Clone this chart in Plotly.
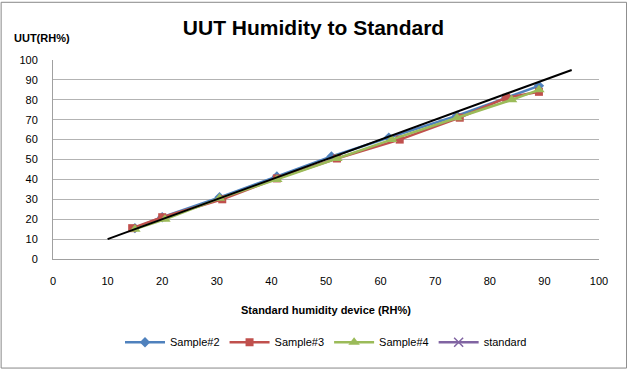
import plotly.graph_objects as go

# Data
s2_x = [15, 20, 30.5, 41, 51, 61.5, 74, 83, 89]
s2_y = [15.5, 21, 31, 41.5, 51.5, 61, 72, 81, 87]
s3_x = [14.5, 20, 31, 41, 52, 63.5, 74.5, 83, 89]
s3_y = [15.5, 21, 30, 40.5, 50.5, 60, 71, 81, 84]
s4_x = [15, 20.5, 30.5, 41, 52, 62, 74, 84, 89]
s4_y = [15, 20, 30.5, 40, 50.5, 60, 71, 80, 85]
std_x = [10, 95]
std_y = [10, 95]
x_ticks = [0, 10, 20, 30, 40, 50, 60, 70, 80, 90, 100]
y_ticks = [0, 10, 20, 30, 40, 50, 60, 70, 80, 90, 100]

FONT = "Liberation Sans"
fig = go.Figure()
fig.add_trace(go.Scatter(x=s2_x, y=s2_y, name="Sample#2", mode="lines+markers",
                         line=dict(color="#4F81BD", width=2.5),
                         marker=dict(symbol="diamond", size=8, color="#4F81BD")))
fig.add_trace(go.Scatter(x=s3_x, y=s3_y, name="Sample#3", mode="lines+markers",
                         line=dict(color="#C0504D", width=2.5),
                         marker=dict(symbol="square", size=8, color="#C0504D")))
fig.add_trace(go.Scatter(x=s4_x, y=s4_y, name="Sample#4", mode="lines+markers",
                         line=dict(color="#9BBB59", width=2.5),
                         marker=dict(symbol="triangle-up", size=10, color="#9BBB59")))
fig.add_trace(go.Scatter(x=[None], y=[None], name="standard", mode="lines+markers",
                         line=dict(color="#8064A2", width=2.5),
                         marker=dict(symbol="x-thin", size=9, line=dict(color="#8064A2", width=1.5))))
fig.add_trace(go.Scatter(x=std_x, y=std_y, mode="lines", showlegend=False,
                         line=dict(color="black", width=2)))

fig.update_layout(
    width=627, height=369,
    margin=dict(l=53, r=28, t=60, b=108),
    paper_bgcolor="white", plot_bgcolor="white",
    font=dict(family=FONT, size=11, color="black"),
    title=dict(text="<b>UUT Humidity to Standard</b>", x=0.5, xanchor="center",
               y=0.924, yanchor="middle", font=dict(size=21, family=FONT)),
    xaxis=dict(range=[0, 100], tickvals=x_ticks, showgrid=False, showline=True,
               linecolor="#a0a0a0", linewidth=1, ticks="", zeroline=False,
               ticklabelstandoff=12,
               title=dict(text="<b>Standard humidity device (RH%)</b>", standoff=20,
                          font=dict(size=11))),
    yaxis=dict(range=[0, 100], tickvals=y_ticks, showgrid=True, gridcolor="#b3b3b3",
               gridwidth=1, showline=True, linecolor="#a0a0a0", linewidth=1,
               ticks="", zeroline=False, ticklabelstandoff=12),
    legend=dict(orientation="h", x=0.5, xanchor="center", y=-0.418, yanchor="middle",
                font=dict(size=11), itemwidth=40),
    shapes=[dict(type="rect", xref="paper", yref="paper", x0=-0.095, x1=1.0505,
                 y0=-0.548, y1=1.29, line=dict(color="#888888", width=1))],
    annotations=[dict(text="<b>UUT(RH%)</b>", xref="paper", yref="paper",
                      x=-0.076, y=1.109, xanchor="left", yanchor="middle",
                      showarrow=False, font=dict(size=11))],
)
fig.write_html("out.html", config={"displayModeBar": False},
               post_script="document.body.style.margin='0';")
